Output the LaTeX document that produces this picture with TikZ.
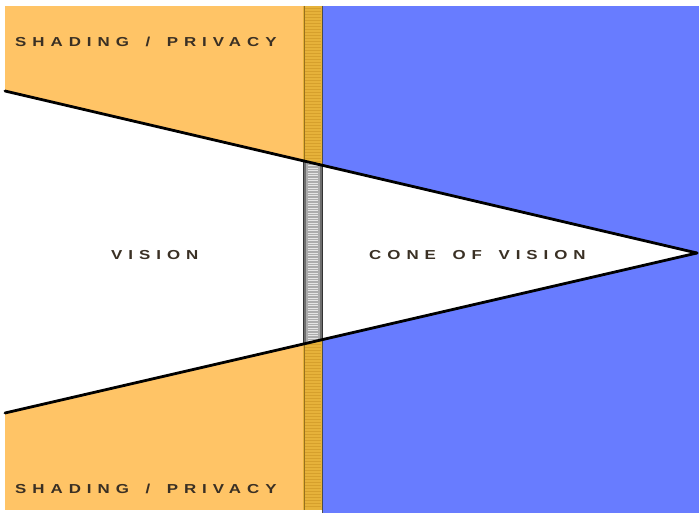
\documentclass[tikz,border=0pt]{standalone}
\usepackage{fontspec}
\usepackage{tikz}
\usetikzlibrary{calc,positioning}
\newfontfamily\lblfont[LetterSpace=46,FakeStretch=1.3,WordSpace=1.55]{Liberation Sans Bold}
\definecolor{shadeorange}{RGB}{255,196,102}
\definecolor{viewblue}{RGB}{104,124,255}
\definecolor{louvergold}{RGB}{230,178,58}
\definecolor{louverline}{RGB}{214,160,44}
\definecolor{glassgrey}{RGB}{110,110,110}
\definecolor{lbltext}{RGB}{58,48,36}
\tikzset{lbl/.style={font=\lblfont\fontsize{13}{15}\selectfont,text=lbltext,inner sep=0pt,anchor=west},
  coneline/.style={line width=2.8pt,black,line cap=round}}

\begin{document}
\begin{tikzpicture}[x=1pt,y=-1pt]
\useasboundingbox (0,0) rectangle (699,513);
\fill[white] (0,0) rectangle (699,513);
% shading side and view side
\fill[shadeorange] (5,6) rectangle (303,510);
\fill[viewblue] (323,6) rectangle (699,513);
% louvre strip
\fill[louvergold] (303,6) rectangle (323,510);
\foreach \yy in {8,11,...,508}
  \draw[louverline,line width=0.6pt] (305,\yy) -- (321,\yy);
\draw[louverline!70!black,line width=0.8pt] (304,6) -- (304,510);
\draw[gray!60!black,line width=1.2pt] (322.5,6) -- (322.5,513);
% the cone
\coordinate (topedge) at (5,91);
\coordinate (botedge) at (5,413);
\coordinate (apex) at (697,253);
\fill[white] (topedge) -- (apex) -- (botedge) -- cycle;
\begin{scope}
  \clip (topedge) -- (apex) -- (botedge) -- cycle;
  \fill[glassgrey] (303,6) rectangle (323,510);
  \fill[gray!65] (306,6) rectangle (320,510);
  \foreach \yy in {8,10.5,...,508}
    \draw[white!80!gray,line width=0.8pt] (308,\yy) -- (318,\yy);
  \draw[gray!40!black,line width=1pt] (303.5,6) -- (303.5,510);
  \draw[gray!40!black,line width=1pt] (322.5,6) -- (322.5,510);
\end{scope}
\draw[coneline] (topedge) -- (apex);
\draw[coneline] (botedge) -- (apex);
% labels
\node[lbl] (shadetop) at (15,42) {SHADING / PRIVACY};
\node[lbl] (shadebot) at (15,489) {SHADING / PRIVACY};
\node[lbl] (vision) at (111,255) {VISION};
\node[lbl] (cone) at (369,255) {CONE OF VISION};
\end{tikzpicture}
\end{document}
